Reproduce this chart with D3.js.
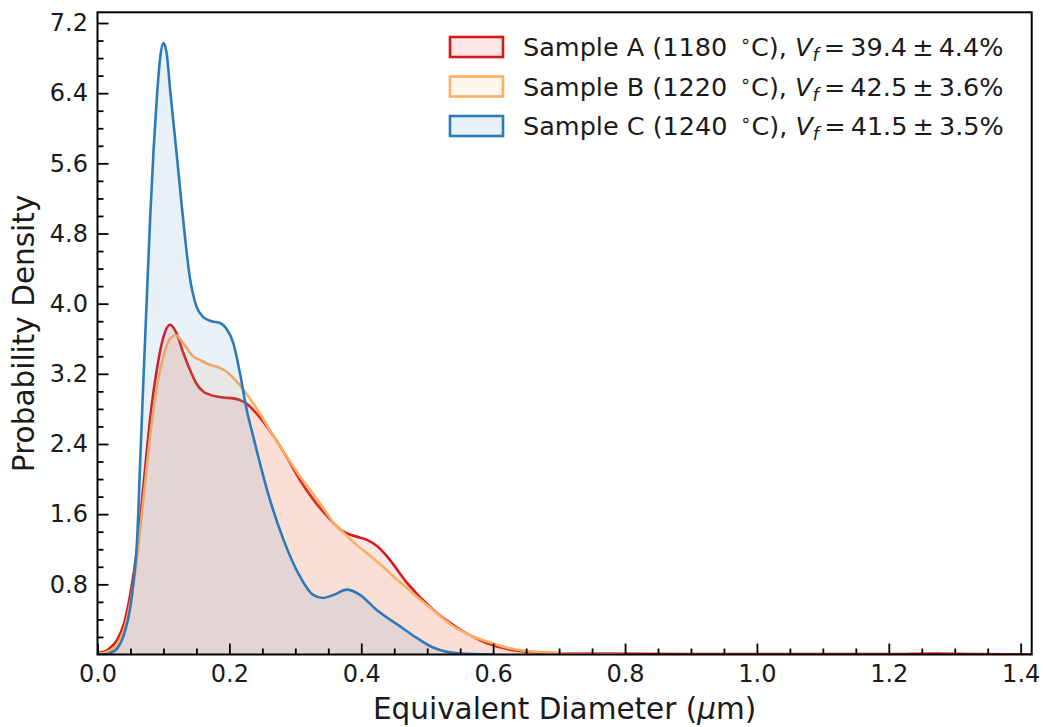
<!DOCTYPE html>
<html>
<head>
<meta charset="utf-8">
<script src="https://cdn.jsdelivr.net/npm/d3@7"></script>
<style>
  html, body { margin: 0; padding: 0; background: #fff; }
  svg { display: block; font-family: "DejaVu Sans", sans-serif; }
</style>
</head>
<body>
<svg id="chart" width="1043" height="727"></svg>
<script>
// Kernel density estimates of grain equivalent diameter for three sintering temperatures
const seriesNames = ["Sample A", "Sample B", "Sample C"];
const seriesTemps = ["1180", "1220", "1240"];
const seriesVf = ["39.4 \u00b1 4.4%", "42.5 \u00b1 3.6%", "41.5 \u00b1 3.5%"];
const seriesColors = ["#d7191c", "#fdae61", "#2c7bb6"];

const diameterA = [0.00, 0.01, 0.02, 0.03, 0.04, 0.05, 0.06, 0.07, 0.08, 0.09, 0.10, 0.11, 0.12, 0.13, 0.14, 0.15, 0.16, 0.171, 0.19, 0.206, 0.216, 0.226, 0.241, 0.267, 0.287, 0.307, 0.328, 0.348, 0.373, 0.39, 0.408, 0.425, 0.439, 0.469, 0.509, 0.55, 0.59, 0.63, 0.68, 0.75, 0.9, 1.2, 1.27, 1.33, 1.4167];
const densityA  = [0.02, 0.03, 0.08, 0.17, 0.35, 0.70, 1.20, 1.95, 2.70, 3.25, 3.62, 3.76, 3.66, 3.44, 3.25, 3.09, 3.00, 2.96, 2.93, 2.92, 2.90, 2.86, 2.75, 2.49, 2.25, 1.99, 1.76, 1.58, 1.40, 1.35, 1.31, 1.23, 1.12, 0.82, 0.51, 0.285, 0.13, 0.05, 0.02, 0.01, 0.005, 0.004, 0.012, 0.004, 0.0];

const diameterB = [0.00, 0.01, 0.02, 0.03, 0.04, 0.05, 0.06, 0.07, 0.08, 0.09, 0.10, 0.11, 0.119, 0.13, 0.145, 0.155, 0.171, 0.185, 0.195, 0.205, 0.216, 0.23, 0.246, 0.262, 0.277, 0.292, 0.307, 0.32, 0.332, 0.345, 0.358, 0.373, 0.39, 0.408, 0.43, 0.449, 0.469, 0.489, 0.515, 0.54, 0.565, 0.59, 0.62, 0.65, 0.70, 0.75, 0.80];
const densityB  = [0.01, 0.02, 0.05, 0.12, 0.28, 0.60, 1.10, 1.80, 2.50, 3.05, 3.40, 3.60, 3.64, 3.55, 3.40, 3.36, 3.30, 3.27, 3.23, 3.16, 3.07, 2.93, 2.75, 2.55, 2.37, 2.20, 2.03, 1.90, 1.78, 1.64, 1.50, 1.39, 1.27, 1.16, 1.02, 0.89, 0.76, 0.63, 0.47, 0.32, 0.22, 0.15, 0.08, 0.04, 0.015, 0.005, 0.0];

const diameterC = [0.00, 0.01, 0.02, 0.03, 0.04, 0.05, 0.055, 0.06, 0.065, 0.07, 0.075, 0.08, 0.085, 0.09, 0.095, 0.10, 0.105, 0.11, 0.12, 0.13, 0.14, 0.15, 0.16, 0.173, 0.186, 0.195, 0.206, 0.216, 0.226, 0.236, 0.257, 0.282, 0.307, 0.327, 0.342, 0.358, 0.378, 0.398, 0.423, 0.459, 0.484, 0.509, 0.53, 0.55, 0.60];
const densityC  = [0.0, 0.0, 0.02, 0.07, 0.22, 0.55, 0.85, 1.30, 2.25, 3.20, 4.10, 5.00, 5.75, 6.35, 6.80, 6.97, 6.85, 6.45, 5.71, 4.95, 4.30, 3.97, 3.85, 3.80, 3.78, 3.72, 3.55, 3.21, 2.80, 2.49, 1.88, 1.31, 0.89, 0.68, 0.645, 0.68, 0.74, 0.68, 0.51, 0.32, 0.19, 0.08, 0.03, 0.01, 0.0];

const xTicks = [0.0, 0.2, 0.4, 0.6, 0.8, 1.0, 1.2, 1.4];
const yTicks = [0.8, 1.6, 2.4, 3.2, 4.0, 4.8, 5.6, 6.4, 7.2];
const xLabel = "Equivalent Diameter (";
const yLabel = "Probability Density";

const series = [
  { x: diameterA, y: densityA },
  { x: diameterB, y: densityB },
  { x: diameterC, y: densityC }
].map((s, i) => ({
  name: seriesNames[i], temp: seriesTemps[i], vf: seriesVf[i], color: seriesColors[i],
  points: s.x.map((d, j) => [d, s.y[j]])
}));

const svg = d3.select("#chart");
const W = 1043, H = 727;
const margin = { left: 97.5, right: W - 1031.7, top: 12.3, bottom: H - 654.5 };

const x = d3.scaleLinear().domain([0, 1.4167]).range([margin.left, W - margin.right]);
const y = d3.scaleLinear().domain([0, 7.322]).range([H - margin.bottom, margin.top]);

svg.append("defs").append("clipPath").attr("id", "plotclip")
  .append("rect")
  .attr("x", x.range()[0]).attr("y", y.range()[1])
  .attr("width", x.range()[1] - x.range()[0])
  .attr("height", y.range()[0] - y.range()[1]);

const plot = svg.append("g").attr("clip-path", "url(#plotclip)");

const area = d3.area()
  .x(d => x(d[0])).y0(y(0)).y1(d => y(d[1]))
  .curve(d3.curveMonotoneX);
const line = d3.line()
  .x(d => x(d[0])).y(d => y(d[1]))
  .curve(d3.curveMonotoneX);

series.forEach(s => {
  plot.append("path").datum(s.points)
    .attr("d", area)
    .attr("fill", s.color).attr("fill-opacity", 0.11);
  plot.append("path").datum(s.points)
    .attr("d", line)
    .attr("fill", "none").attr("stroke", s.color)
    .attr("stroke-width", 2.6).attr("stroke-linejoin", "round");
});

// Axes: inward ticks on bottom and left only
const tickFont = 24;
const majorLen = 11, minorLen = 6;

const xMinor = d3.range(0, 1.4167, 0.05).filter(v => Math.abs(v / 0.2 - Math.round(v / 0.2)) > 1e-6);
const yMinor = d3.range(0.2, 7.322, 0.2).filter(v => Math.abs(v / 0.8 - Math.round(v / 0.8)) > 1e-6);

const xAxisG = svg.append("g").attr("transform", `translate(0,${y(0)})`);
xAxisG.call(d3.axisBottom(x).tickValues(xTicks).tickSizeInner(-majorLen).tickSizeOuter(0)
  .tickPadding(10).tickFormat(d3.format(".1f")));
const xMinorG = svg.append("g").attr("transform", `translate(0,${y(0)})`);
xMinorG.call(d3.axisBottom(x).tickValues(xMinor).tickSizeInner(-minorLen).tickSizeOuter(0).tickFormat(""));

const yAxisG = svg.append("g").attr("transform", `translate(${x(0)},0)`);
yAxisG.call(d3.axisLeft(y).tickValues(yTicks).tickSizeInner(-majorLen).tickSizeOuter(0)
  .tickPadding(9.5).tickFormat(d3.format(".1f")));
const yMinorG = svg.append("g").attr("transform", `translate(${x(0)},0)`);
yMinorG.call(d3.axisLeft(y).tickValues(yMinor).tickSizeInner(-minorLen).tickSizeOuter(0).tickFormat(""));

[xAxisG, xMinorG, yAxisG, yMinorG].forEach(g => {
  g.select(".domain").remove();
  g.selectAll(".tick line").attr("stroke", "#000").attr("stroke-width", 1.8);
  g.selectAll(".tick text").attr("font-size", tickFont)
    .attr("font-family", "DejaVu Sans").attr("fill", "#1a1a1a");
});

// Frame
svg.append("rect")
  .attr("x", x.range()[0]).attr("y", y.range()[1])
  .attr("width", x.range()[1] - x.range()[0])
  .attr("height", y.range()[0] - y.range()[1])
  .attr("fill", "none").attr("stroke", "#000").attr("stroke-width", 2);

// Axis titles
const xt = svg.append("text")
  .attr("x", (x.range()[0] + x.range()[1]) / 2).attr("y", 719)
  .attr("text-anchor", "middle").attr("font-size", 29.5).attr("fill", "#1a1a1a");
xt.append("tspan").text(xLabel);
xt.append("tspan").attr("font-style", "italic").text("\u03bc");
xt.append("tspan").text("m)");

svg.append("text")
  .attr("transform", `translate(34,${(y.range()[0] + y.range()[1]) / 2}) rotate(-90)`)
  .attr("text-anchor", "middle").attr("font-size", 29.5).attr("fill", "#1a1a1a")
  .text(yLabel);

// Legend (no frame)
const legFont = 25.5;
const legend = svg.append("g");
series.forEach((s, i) => {
  const cy = 47 + i * 39.5;
  legend.append("rect")
    .attr("x", 450).attr("y", cy - 10).attr("width", 53).attr("height", 20)
    .attr("fill", s.color).attr("fill-opacity", 0.11)
    .attr("stroke", s.color).attr("stroke-width", 2.6);
  const t = legend.append("text")
    .attr("x", 523).attr("y", cy + 9)
    .attr("font-size", legFont).attr("fill", "#1a1a1a");
  t.append("tspan").text(`${s.name} (${s.temp}\u2002`);
  t.append("tspan").attr("font-size", legFont * 0.7).attr("dy", -9).text("\u2218");
  t.append("tspan").attr("dy", 9).text("C), ");
  t.append("tspan").attr("font-style", "italic").text("V");
  t.append("tspan").attr("font-style", "italic").attr("font-size", legFont * 0.7).attr("dy", 5).text("f");
  t.append("tspan").attr("dy", -5).text(`\u2009=\u2009${s.vf.replace(" \u00b1 ", "\u2009\u00b1\u2009")}`);
});
</script>
</body>
</html>
